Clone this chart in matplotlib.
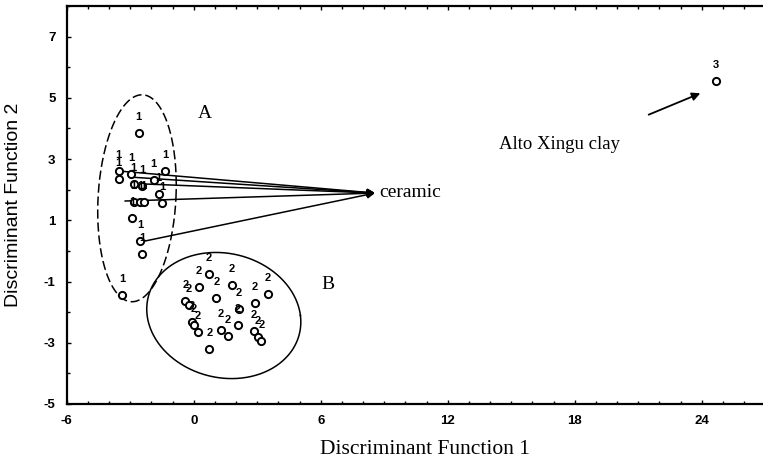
import numpy as np
import matplotlib
matplotlib.use("Agg")
import matplotlib.pyplot as plt
from matplotlib.ticker import MultipleLocator, FixedLocator

# ---- data ----
g1_x = [-2.60, -3.54, -3.54, -2.95, -2.83, -2.44, -1.89, -1.34, -1.65, -1.50,
        -2.83, -2.52, -2.36, -2.91, -2.52, -2.44, -3.39]
g1_y = [3.86, 2.61, 2.35, 2.50, 2.18, 2.12, 2.31, 2.61, 1.85, 1.58,
        1.60, 1.60, 1.60, 1.09, 0.33, -0.10, -1.45]

g2_x = [0.71, 0.24, 1.81, 1.07, 3.51, -0.40, 2.88, 2.13, -0.24, -0.08,
        0.00, 0.19, 1.30, 1.62, 2.09, 2.83, 3.04, 3.19, 0.74]
g2_y = [-0.75, -1.19, -1.11, -1.53, -1.40, -1.65, -1.71, -1.91, -1.75, -2.32,
        -2.43, -2.65, -2.57, -2.78, -2.43, -2.62, -2.81, -2.94, -3.19]

g3_x = [24.67]
g3_y = [5.56]

# arrows from ceramic samples to the "ceramic" label
ceramic_src_x = [-3.54, -2.95, -2.44, -3.25, -2.60]
ceramic_src_y = [2.61, 2.41, 2.19, 1.63, 0.28]
ceramic_tip = (8.56, 1.89)

clay_arrow_start = (21.49, 4.45)
clay_arrow_end = (23.93, 5.15)

x_ticks = [-6, 0, 6, 12, 18, 24]
y_ticks = [-5, -3, -1, 1, 3, 5, 7]

# group ellipses: centre, semi-axes, shear (lean)
ellA = dict(cx=-2.68, cy=1.72, a=1.84, b=3.38, k=0.07)
ellB = dict(cx=1.42, cy=-2.11, a=3.62, b=2.06, k=-0.18)

# ---- figure ----
W, H = 763, 467
fig = plt.figure(figsize=(W / 100, H / 100), dpi=100)
ax_left, ax_bottom = 66.7, 467 - 404
ax_w, ax_h = 719.8, 398
ax = fig.add_axes([ax_left / W, ax_bottom / H, ax_w / W, ax_h / H])
ax.set_xlim(-6, 28)
ax.set_ylim(-5, 8)

serif = "Liberation Serif"
sans = "Liberation Sans"

mk = dict(marker="o", markersize=5.2, markerfacecolor="white",
          markeredgecolor="black", markeredgewidth=1.4, linestyle="none", zorder=4)

for xs, ys, lab in [(g1_x, g1_y, "1"), (g2_x, g2_y, "2"), (g3_x, g3_y, "3")]:
    ax.plot(xs, ys, **mk)
    for x, y in zip(xs, ys):
        ax.annotate(lab, (x, y), xytext=(0, 11.5), textcoords="offset points",
                    ha="center", va="center", fontsize=8, fontweight="bold",
                    family=sans, zorder=5)

# arrows to "ceramic"
for sx, sy in zip(ceramic_src_x, ceramic_src_y):
    ax.annotate("", xy=ceramic_tip, xytext=(sx, sy),
                arrowprops=dict(arrowstyle="-|>", color="black", lw=1.1,
                                mutation_scale=11, shrinkA=0, shrinkB=0),
                zorder=3)
ax.text(ceramic_tip[0] + 0.2, ceramic_tip[1] + 0.03, "ceramic", family=serif,
        fontsize=14, ha="left", va="center")

ax.annotate("", xy=clay_arrow_end, xytext=clay_arrow_start,
            arrowprops=dict(arrowstyle="-|>", color="black", lw=1.3,
                            mutation_scale=12, shrinkA=0, shrinkB=0))
ax.text(14.42, 3.49, "Alto Xingu clay", family=serif, fontsize=13.5,
        ha="left", va="center")

ax.text(0.53, 4.5, "A", family=serif, fontsize=14, ha="center", va="center")
ax.text(6.34, -1.1, "B", family=serif, fontsize=14, ha="center", va="center")

t = np.linspace(0, 2 * np.pi, 400)
for e, ls in [(ellA, (0, (6, 2.5))), (ellB, "-")]:
    yy = e["cy"] + e["b"] * np.sin(t)
    xx = e["cx"] + e["a"] * np.cos(t) + e["k"] * (yy - e["cy"])
    ax.plot(xx, yy, color="black", lw=1.1, linestyle=ls, zorder=2)

# axes styling
for side in ["left", "bottom", "top"]:
    ax.spines[side].set_linewidth(1.6)
ax.spines["right"].set_visible(False)

ax.xaxis.set_major_locator(FixedLocator(x_ticks))
ax.yaxis.set_major_locator(FixedLocator(y_ticks))
ax.xaxis.set_minor_locator(MultipleLocator(1))
ax.yaxis.set_minor_locator(MultipleLocator(1))
ax.set_xticklabels([str(v) for v in x_ticks])
ax.set_yticklabels([str(v) for v in y_ticks])
ax.tick_params(which="both", direction="in", top=True, right=False, width=1.0)
ax.tick_params(which="major", length=3, pad=8)
ax.tick_params(which="minor", length=2)
for lab in ax.get_xticklabels() + ax.get_yticklabels():
    lab.set_family(sans)
    lab.set_fontweight("bold")
    lab.set_fontsize(9.5)

ax.set_xlabel("Discriminant Function 1", family=serif, fontsize=15.5)
ax.xaxis.set_label_coords((424.5 - ax_left) / ax_w, (404 - 440) / ax_h)
ax.set_ylabel("Discriminant Function 2", family=sans, fontsize=14)
ax.yaxis.set_label_coords((22 - ax_left) / ax_w, (404 - 205) / ax_h)

fig.savefig("out.png", dpi=100)
